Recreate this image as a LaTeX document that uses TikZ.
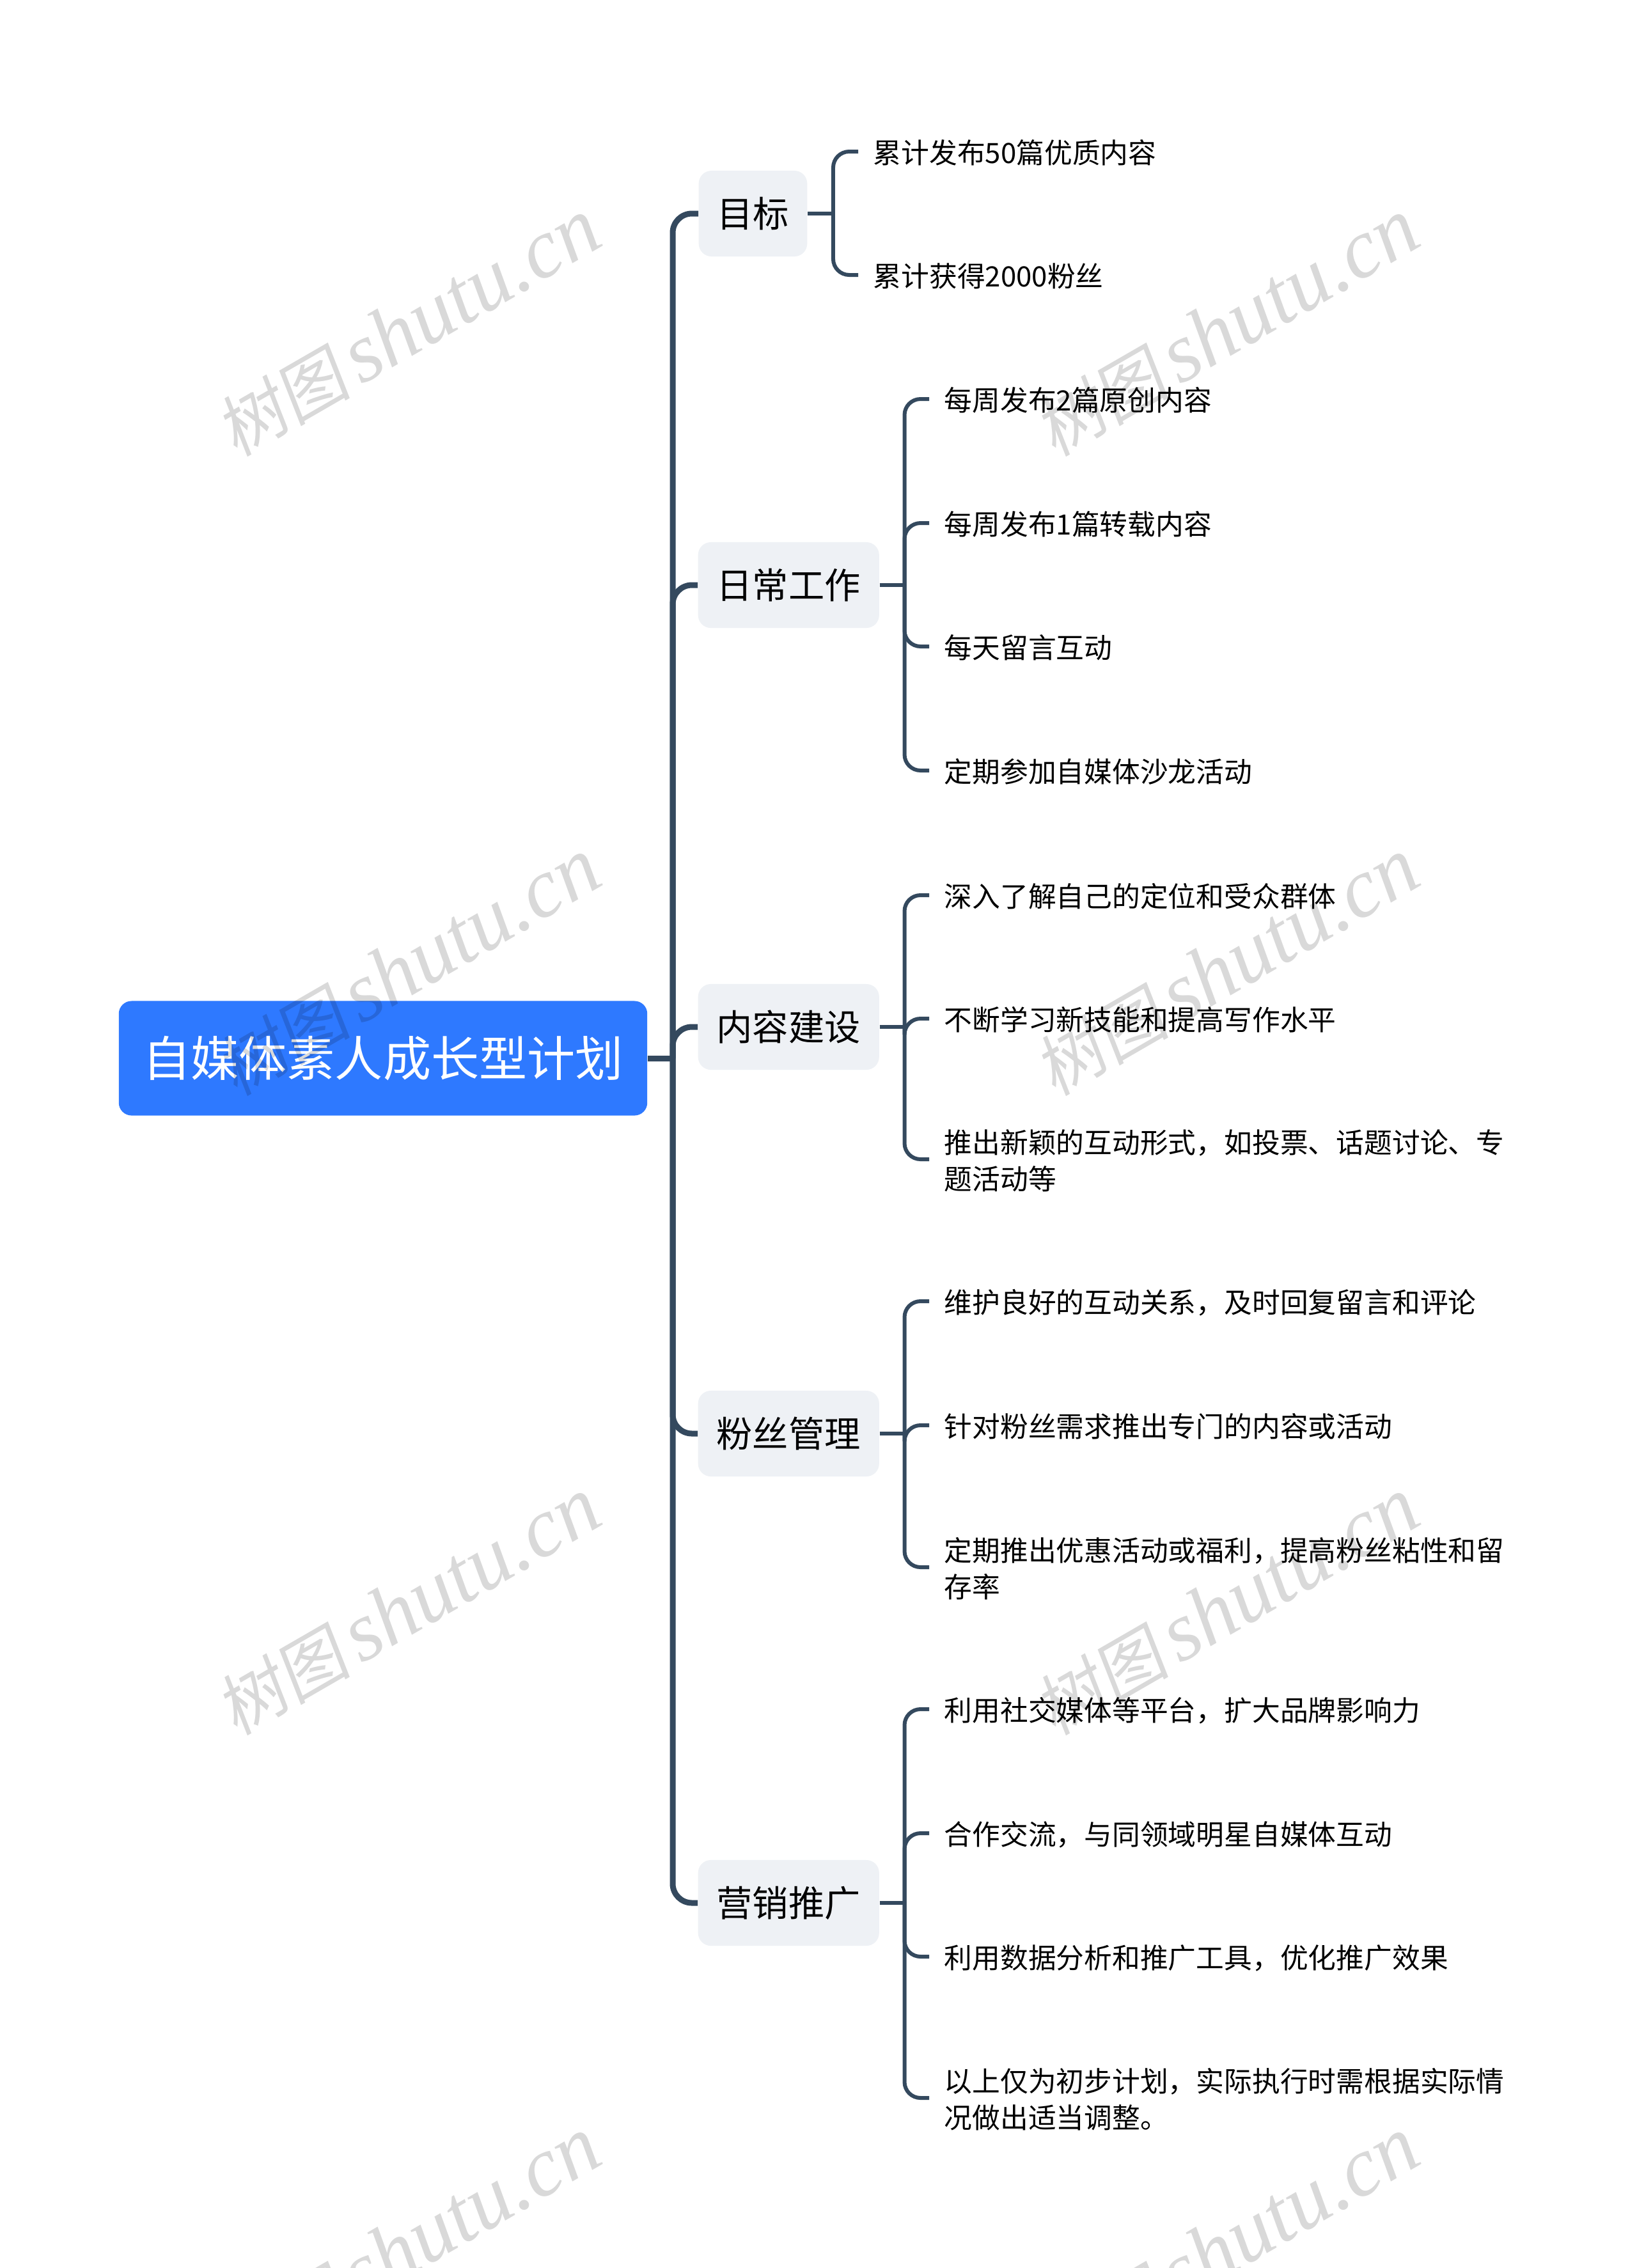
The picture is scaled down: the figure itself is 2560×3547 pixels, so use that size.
\documentclass[tikz,border=0pt]{standalone}
\usepackage{fontspec}
\setmainfont{Noto Sans CJK SC}
\newfontfamily\wmcjk[FakeSlant=0.15]{Noto Sans CJK SC}
\newfontfamily\wmlatin{Liberation Serif}
\definecolor{rootblue}{HTML}{2E79FF}
\definecolor{branchgray}{HTML}{EEF1F5}
\definecolor{linedark}{HTML}{34495E}
\tikzset{
  rootnode/.style={fill=rootblue, text=white, rounded corners=.2cm, minimum width=8.26cm, minimum height=1.79cm, inner sep=0pt, font=\fontsize{21.35}{26}\selectfont},
  branchnode/.style={fill=branchgray, text=black, anchor=west, rounded corners=.2cm, inner xsep=.29cm, inner ysep=0pt, minimum height=1.34cm, font=\fontsize{16}{20}\selectfont},
  leafnode/.style={anchor=west, align=left, text=black, yshift=-.02cm, inner xsep=.23cm, inner ysep=0pt, font=\fontsize{12.45}{16.07}\selectfont},
  trunkline/.style={draw=linedark, line width=.09cm, rounded corners=.3cm},
  leafline/.style={draw=linedark, line width=.06cm, rounded corners=.25cm},
  watermark/.style={rotate=30, text=black, opacity=.15, inner sep=0pt}
}
\begin{document}
\begin{tikzpicture}[x=0.01cm, y=-0.01cm]
  \useasboundingbox (0,0) rectangle (2560,3547);
  \fill[white] (0,0) rectangle (2560,3547);
  \node[rootnode] (root) at (599,1655) {自媒体素人成长型计划};
  \node[branchnode, inner xsep=.285cm] (mubiao) at (1092,334) {目标};
  \node[branchnode] (richang) at (1091,915) {日常工作};
  \node[branchnode] (neirong) at (1091,1606) {内容建设};
  \node[branchnode] (fensi) at (1091,2242) {粉丝管理};
  \node[branchnode] (yingxiao) at (1091,2976) {营销推广};
  % goals
  \node[leafnode] (l11) at (1342,237) {累计发布50篇优质内容};
  \node[leafnode] (l12) at (1342,430) {累计获得2000粉丝};
  % daily work
  \node[leafnode] (l21) at (1453,624) {每周发布2篇原创内容};
  \node[leafnode] (l22) at (1453,818) {每周发布1篇转载内容};
  \node[leafnode] (l23) at (1453,1011) {每天留言互动};
  \node[leafnode] (l24) at (1453,1205) {定期参加自媒体沙龙活动};
  % content
  \node[leafnode] (l31) at (1453,1400) {深入了解自己的定位和受众群体};
  \node[leafnode] (l32) at (1453,1593) {不断学习新技能和提高写作水平};
  \node[leafnode] (l33) at (1453,1813) {推出新颖的互动形式，如投票、话题讨论、专\\题活动等};
  % fans
  \node[leafnode] (l41) at (1453,2035) {维护良好的互动关系，及时回复留言和评论};
  \node[leafnode] (l42) at (1453,2229) {针对粉丝需求推出专门的内容或活动};
  \node[leafnode] (l43) at (1453,2451) {定期推出优惠活动或福利，提高粉丝粘性和留\\存率};
  % promotion
  \node[leafnode] (l51) at (1453,2673) {利用社交媒体等平台，扩大品牌影响力};
  \node[leafnode] (l52) at (1453,2867) {合作交流，与同领域明星自媒体互动};
  \node[leafnode] (l53) at (1453,3060) {利用数据分析和推广工具，优化推广效果};
  \node[leafnode] (l54) at (1453,3281) {以上仅为初步计划，实际执行时需根据实际情\\况做出适当调整。};
  % connectors
  \coordinate (tk) at (1052,1655);
  \draw[trunkline] (root.east) -- (tk);
  \foreach \br in {mubiao,richang,neirong,fensi,yingxiao}
    \draw[trunkline] (tk) |- (\br.west);
  \foreach \br/\stub/\lfs in {mubiao/40/{l11,l12}, richang/39/{l21,l22,l23,l24}, neirong/39/{l31,l32,l33}, fensi/39/{l41,l42,l43}, yingxiao/39/{l51,l52,l53,l54}} {
    \path (\br.east) -- ++(\stub,0) coordinate (b\br);
    \draw[leafline] (\br.east) -- (b\br);
    \foreach \lf in \lfs
      \draw[leafline] (b\br) |- ([yshift=.02cm]\lf.west);
  }
  % watermarks
  \foreach \i in {0,1}
    \foreach \j in {0,1,2,3}
      \node[watermark] (wm\i\j) at (638+1280*\i,513+1000*\j) {{\wmcjk\fontsize{30}{30}\selectfont 树图}\hspace{.15cm}{\wmlatin\itshape\fontsize{37.4}{37.4}\selectfont shutu.cn}};
\end{tikzpicture}
\end{document}
